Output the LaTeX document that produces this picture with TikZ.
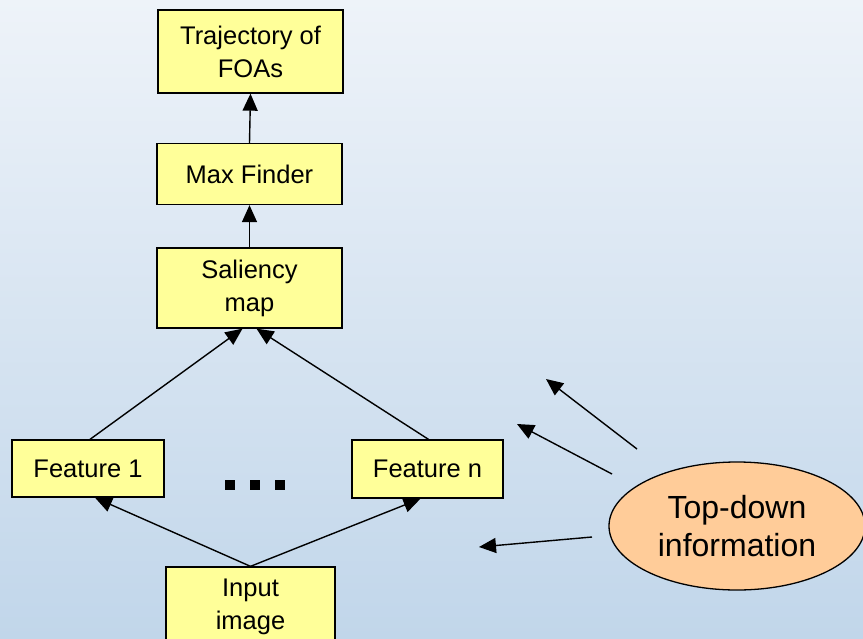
\documentclass[tikz,border=0pt]{standalone}
\usepackage{fontspec}
\setmainfont{Liberation Sans}
\usetikzlibrary{shapes.geometric,arrows.meta}
\definecolor{bgtop}{HTML}{EEF3F9}
\definecolor{bgbot}{HTML}{C1D6EA}
\definecolor{boxfill}{HTML}{FFFF99}
\definecolor{ellfill}{HTML}{FFCC99}
\begin{document}
\begin{tikzpicture}[x=1pt,y=-1pt,
  box/.style={draw=black,line width=1.3pt,fill=boxfill,align=center,inner sep=0pt,font=\fontsize{25.5}{33}\selectfont},
  arr/.style={line width=1.4pt,-{Triangle[length=17pt,width=15pt]}},
  dotsq/.style={fill=black,minimum size=10pt,inner sep=0pt}]
\fill[top color=bgtop,bottom color=bgbot] (0,0) rectangle (863,638);
\useasboundingbox (0,0) rectangle (863,638);
\node[box,minimum width=185pt,minimum height=83pt] (traj) at (250.5,51.5) {Trajectory of\\FOAs};
\node[box,minimum width=185pt,minimum height=61pt] (max) at (249.5,174) {Max Finder};
\node[box,minimum width=185pt,minimum height=80pt] (sal) at (249.5,288) {Saliency\\map};
\node[box,minimum width=152pt,minimum height=57pt] (f1) at (88,468.5) {Feature 1};
\node[box,minimum width=151pt,minimum height=58pt] (fn) at (427.5,469) {Feature n};
\node[box,minimum width=169pt,minimum height=80pt] (inp) at (250.5,607) {Input\\image};
\node[dotsq] (d1) at (229.5,484.5) {};
\node[dotsq] (d2) at (254.5,484.5) {};
\node[dotsq] (d3) at (279.5,484.5) {};
\node[ellipse,draw=black,line width=1.3pt,fill=ellfill,minimum width=256pt,minimum height=128pt,inner sep=0pt,align=center,font=\fontsize{32}{38}\selectfont] (td) at (737,526) {Top-down\\information};
\draw[arr] (max.north) -- (traj.south);
\draw[arr] (sal.north) -- (max.south);
\draw[arr] ([xshift=2pt]f1.north) -- ([xshift=-7pt]sal.south);
\draw[arr] ([xshift=1pt]fn.north) -- ([xshift=7pt]sal.south);
\draw[arr] (inp.north) -- ([xshift=7pt]f1.south);
\draw[arr] (inp.north) -- ([xshift=-7pt]fn.south);
\coordinate (s1) at (637,449);
\coordinate (t1) at (546,379);
\coordinate (s2) at (612,474);
\coordinate (t2) at (517,424);
\coordinate (s3) at (592,537);
\coordinate (t3) at (479,547);
\draw[arr] (s1) -- (t1);
\draw[arr] (s2) -- (t2);
\draw[arr] (s3) -- (t3);
\end{tikzpicture}
\end{document}
